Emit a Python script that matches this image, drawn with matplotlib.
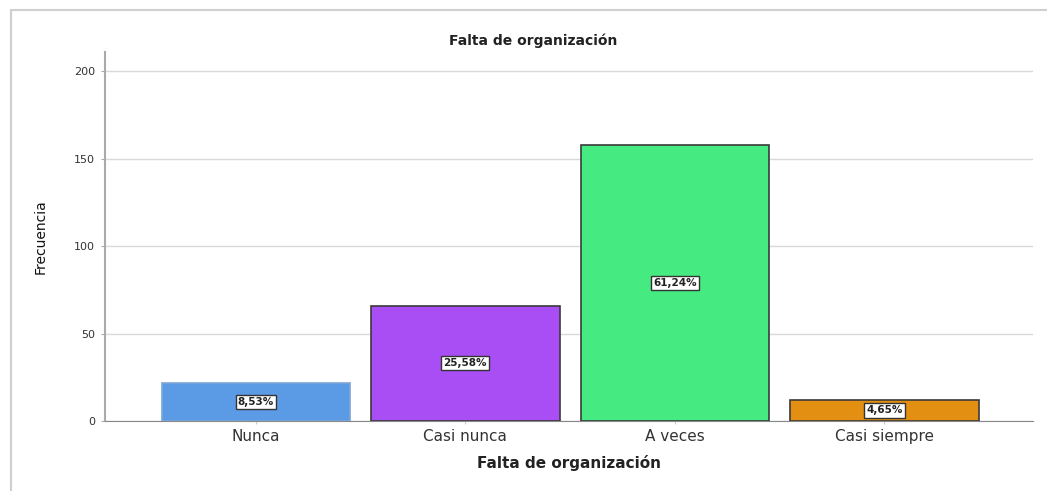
import matplotlib.pyplot as plt
from matplotlib.patches import Rectangle

# ==== DATA ====
categories = ["Nunca", "Casi nunca", "A veces", "Casi siempre"]
counts = [22, 66, 158, 12]
pct_labels = ["8,53%", "25,58%", "61,24%", "4,65%"]
bar_colors = ["#5b9be6", "#a94ef5", "#45ea80", "#e39012"]
edge_colors = ["#7aa6d8", "#3a3a3a", "#3a3a3a", "#3a3a3a"]
y_ticks = [0, 50, 100, 150, 200]

# ==== PLOT ====
fig = plt.figure(figsize=(10.47, 4.91), dpi=100)
ax = fig.add_axes([0.1003, 0.1426, 0.8863, 0.7514])

x = range(len(categories))
ax.bar(x, counts, width=0.9, color=bar_colors, edgecolor=edge_colors, linewidth=1.2, zorder=3)

for i, (c, lab) in enumerate(zip(counts, pct_labels)):
    ax.text(i, c / 2, lab, ha="center", va="center", fontsize=7.5, color="#222222", zorder=4,
            fontweight="semibold",
            bbox=dict(boxstyle="square,pad=0.2", facecolor="white", edgecolor="#333333", linewidth=1))

ax.set_xlim(-0.72, 3.71)
ax.set_ylim(0, 211)
ax.set_yticks(y_ticks)
ax.set_yticklabels([str(t) for t in y_ticks], fontsize=8, color="#333333")
ax.set_xticks(list(x))
ax.set_xticklabels(categories, fontsize=11, color="#333333")
ax.tick_params(axis="y", length=3, color="#aaaaaa", pad=4)
ax.tick_params(axis="x", length=2, color="#cccccc", pad=4)

ax.grid(axis="y", color="#d9d9d9", linewidth=1, zorder=0)
for side in ["top", "right"]:
    ax.spines[side].set_visible(False)
ax.spines["left"].set_color("#aaaaaa")
ax.spines["left"].set_linewidth(1.5)
ax.spines["bottom"].set_color("#888888")

ax.set_xlabel("Falta de organización", fontsize=11, fontweight="bold", color="#222222", labelpad=8)
ax.set_ylabel("Frecuencia", fontsize=10, color="#111111", labelpad=30)
ax.yaxis.set_label_coords(-0.062, 0.5)
fig.text(0.509, 0.918, "Falta de organización", ha="center", va="center",
         fontsize=10, fontweight="bold", color="#222222")

# window frame around the chart
fig.patches.append(Rectangle((0.0105, -0.01), 1.0, 0.99, transform=fig.transFigure,
                             fill=False, edgecolor="#cfcfcf", linewidth=1.5))

fig.savefig("out.png", dpi=100)
